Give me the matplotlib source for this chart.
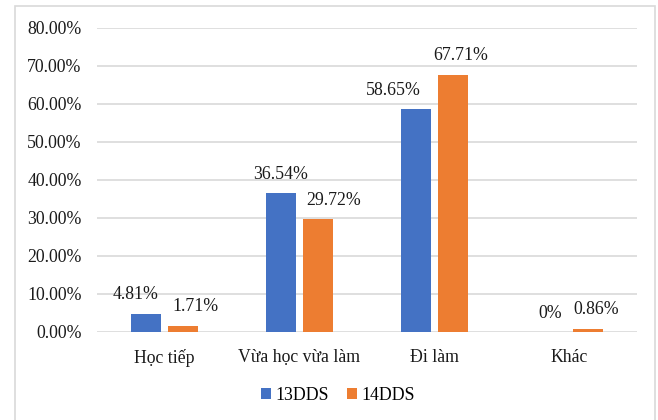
import numpy as np
import matplotlib
matplotlib.use("Agg")
import matplotlib.pyplot as plt
from matplotlib.patches import Rectangle
from matplotlib.ticker import FuncFormatter

# data
categories = ["Học tiếp", "Vừa học vừa làm", "Đi làm", "Khác"]
series_names = ["13DDS", "14DDS"]
val_13dds = [4.81, 36.54, 58.65, 0.0]
val_14dds = [1.71, 29.72, 67.71, 0.86]
labels_13dds = ["4.81%", "36.54%", "58.65%", "0%"]
labels_14dds = ["1.71%", "29.72%", "67.71%", "0.86%"]

# hand-placed label nudges (pixels), like in the original
nudge_13 = [-10, 0, -22, 0]
nudge_14 = [12, 15, 7, 8]

blue = "#4472C4"
orange = "#ED7D31"
grid_col = "#D9D9D9"

plt.rcParams["font.family"] = ["Liberation Serif", "DejaVu Serif"]
fs = 12.8

fig = plt.figure(figsize=(6.58, 4.20), dpi=100)
ax = fig.add_axes([97 / 658, 1 - 332 / 420, 540 / 658, 304 / 420])

# outer border of the chart
fig.patches.append(Rectangle((15 / 658, -0.02), 640 / 658, 1.02 - 6 / 420,
                             transform=fig.transFigure, fill=False,
                             edgecolor=grid_col, linewidth=1.2))

x = np.arange(len(categories))
w = 0.222
off = 0.14
b1 = ax.bar(x - off, val_13dds, w, color=blue, label=series_names[0], zorder=3)
b2 = ax.bar(x + off, val_14dds, w, color=orange, label=series_names[1], zorder=3)

for bars, labs, nud in [(b1, labels_13dds, nudge_13), (b2, labels_14dds, nudge_14)]:
    for rect, lab, n in zip(bars, labs, nud):
        ax.annotate(lab, (rect.get_x() + rect.get_width() / 2, rect.get_height()),
                    xytext=(n, 19), textcoords="offset pixels",
                    ha="center", va="center", fontsize=fs, color="#1a1a1a")

ax.set_xlim(-0.5, len(categories) - 0.5)
ax.set_ylim(0, 80)
ax.set_yticks(np.arange(0, 81, 10))
ax.yaxis.set_major_formatter(FuncFormatter(lambda v, p: f"{v:.2f}%"))
ax.set_xticks(x)
ax.set_xticklabels(categories)
ax.tick_params(axis="both", length=0, labelsize=fs, colors="#1a1a1a")
ax.tick_params(axis="x", pad=12)
ax.tick_params(axis="y", pad=11)
ax.grid(axis="y", color=grid_col, linewidth=1.2, zorder=0)
for s in ax.spines.values():
    s.set_visible(False)

fig.legend(loc="center", bbox_to_anchor=(338 / 658, 1 - 395 / 420), ncol=2,
           frameon=False, fontsize=fs, handlelength=0.55, handleheight=0.55,
           handletextpad=0.25, columnspacing=1.0)

fig.savefig("out.png", dpi=100)
